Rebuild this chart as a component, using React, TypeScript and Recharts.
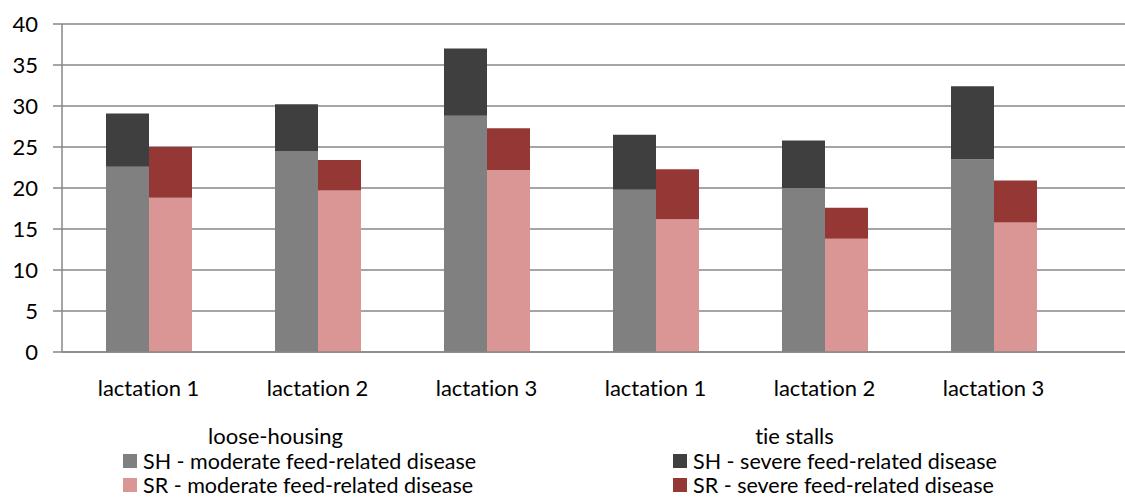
import { BarChart, Bar, XAxis, YAxis, CartesianGrid, Legend } from "recharts";

const categories = ["lactation 1", "lactation 2", "lactation 3", "lactation 1", "lactation 2", "lactation 3"];
const groups = ["loose-housing", "loose-housing", "loose-housing", "tie stalls", "tie stalls", "tie stalls"];
const shModerate = [22.6, 24.5, 28.8, 19.8, 20.0, 23.5];
const shSevere = [6.5, 5.7, 8.2, 6.7, 5.8, 8.9];
const srModerate = [18.8, 19.7, 22.2, 16.2, 13.8, 15.8];
const srSevere = [6.2, 3.7, 5.1, 6.1, 3.8, 5.1];
const yTicks = [0, 5, 10, 15, 20, 25, 30, 35, 40];

const data = categories.map((name, i) => ({
    name,
    group: groups[i],
    shModerate: shModerate[i],
    shSevere: shSevere[i],
    srModerate: srModerate[i],
    srSevere: srSevere[i],
}));

const font = "Lato, sans-serif";
const gridColor = "#878787";
const noLig = { fontVariantLigatures: "none" as const };

// group label sits under the middle category of each group, nudged left like the original
const groupLabelAt: Record<number, number> = { 1: -42, 4: -30 };

function CategoryTick(props: any) {
    const { x, y, payload } = props;
    const i = payload.index;
    return (
        <g>
            <text x={x} y={y + 35} textAnchor="middle" dominantBaseline="central"
                  fontFamily={font} fontSize={22} fill="#000" style={noLig}>
                {payload.value}
            </text>
            {groupLabelAt[i] !== undefined && (
                <text x={x + groupLabelAt[i]} y={y + 83} textAnchor="middle" dominantBaseline="central"
                      fontFamily={font} fontSize={22} fill="#000" style={noLig}>
                    {groups[i]}
                </text>
            )}
        </g>
    );
}

function LegendBox(props: any) {
    const items = props.payload || [];
    const cols = [123, 673];
    const rows = [461, 485];
    return (
        <div style={{ position: "relative", width: 1125, height: 0 }}>
            {items.map((it: any, i: number) => (
                <div key={i} style={{
                    position: "absolute",
                    left: cols[i % 2],
                    top: rows[Math.floor(i / 2)] - 12,
                    height: 24,
                    lineHeight: "24px",
                    display: "flex",
                    alignItems: "center",
                    fontFamily: font,
                    fontSize: 21.5,
                    color: "#000",
                    whiteSpace: "nowrap",
                    fontVariantLigatures: "none",
                }}>
                    <span style={{ width: 14, height: 14, background: it.color, marginRight: 6, display: "inline-block" }} />
                    {it.value}
                </div>
            ))}
        </div>
    );
}

export default function App() {
    return (
        <div style={{ position: "absolute", left: 0, top: 0 }}>
            <BarChart width={1125} height={497} data={data}
                      margin={{ top: 24, right: 0, bottom: 115, left: 0 }}
                      barCategoryGap={42} barGap={0}>
                <CartesianGrid vertical={false} stroke={gridColor} strokeWidth={1.5} />
                <XAxis dataKey="name" height={30} stroke={gridColor} strokeWidth={1.5}
                       tickLine={false} tickSize={0} tickMargin={0}
                       padding={{ left: 2, right: 47 }} interval={0} tick={<CategoryTick />} />
                <YAxis width={62} domain={[0, 40]} ticks={yTicks} interval={0}
                       stroke={gridColor} strokeWidth={1.5} tickSize={9} tickMargin={15}
                       tick={{ fontFamily: font, fontSize: 22, fill: "#000" }} />
                <Legend content={<LegendBox />}
                        wrapperStyle={{ position: "absolute", left: 0, top: 0, width: 1125, height: 0 }} />
                <Bar dataKey="shModerate" stackId="sh" fill="#808080" name="SH - moderate feed-related disease" isAnimationActive={false} />
                <Bar dataKey="shSevere" stackId="sh" fill="#3f3f3f" name="SH - severe feed-related disease" isAnimationActive={false} />
                <Bar dataKey="srModerate" stackId="sr" fill="#d99694" name="SR - moderate feed-related disease" isAnimationActive={false} />
                <Bar dataKey="srSevere" stackId="sr" fill="#953735" name="SR - severe feed-related disease" isAnimationActive={false} />
            </BarChart>
        </div>
    );
}
